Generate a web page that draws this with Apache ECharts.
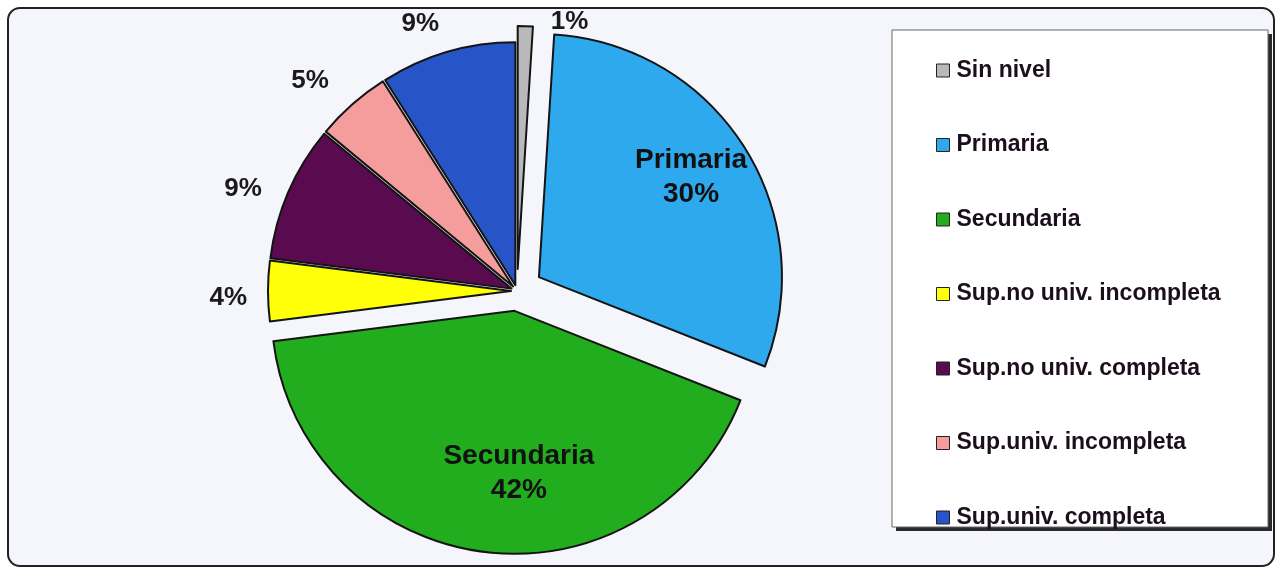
<!DOCTYPE html>
<html><head><meta charset="utf-8">
<script src="https://cdn.jsdelivr.net/npm/echarts@6/dist/echarts.min.js"></script>
<style>html,body{margin:0;padding:0;background:#fff}#c{width:1279px;height:572px}</style>
</head><body><div id="c"></div>
<script>
// ---- data ----
const categories = ['Sin nivel', 'Primaria', 'Secundaria', 'Sup.no univ. incompleta', 'Sup.no univ. completa', 'Sup.univ. incompleta', 'Sup.univ. completa'];
const percentages = [1, 30, 42, 4, 9, 5, 9];
const insideLabelCategories = ['Primaria', 'Secundaria'];

// ---- style ----
const colors = ['#b9b9b9', '#2fa9ee', '#22ad1f', '#ffff08', '#5a0a4f', '#f59c9c', '#2754c6'];
const explode = { 'Sin nivel': 22, 'Primaria': 26, 'Secundaria': 20 };
const defaultExplode = 6;
// label nudges [dx, dy] in px
const labelNudge = {
  'Sin nivel': [20, 12],
  'Primaria': [47, -33],
  'Secundaria': [20, 39],
  'Sup.no univ. incompleta': [0, 7],
  'Sup.no univ. completa': [-7, 3],
  'Sup.univ. incompleta': [-8, -11],
  'Sup.univ. completa': [1, -13]
};
const FONT = 'Liberation Sans, Arial, sans-serif';
const CENTER = [517, 291], R = 243;

const offsets = [...new Set(categories.map(c => explode[c] ?? defaultExplode))];
const series = offsets.map(off => ({
  type: 'pie', center: CENTER, radius: R, startAngle: 90, clockwise: true,
  selectedMode: 'multiple', selectedOffset: off, silent: true, animation: false,
  avoidLabelOverlap: false,
  labelLine: { show: false, length: 16, length2: 0 },
  labelLayout: (p) => {
    const n = labelNudge[categories[p.dataIndex]] || [0, 0];
    return { dx: n[0], dy: n[1] };
  },
  data: categories.map((c, i) => {
    const mine = (explode[c] ?? defaultExplode) === off;
    const inside = insideLabelCategories.includes(c);
    let label;
    if (!mine) label = { show: false };
    else if (inside) label = { show: true, position: 'inside', formatter: '{b}\n{c}%', fontFamily: FONT, fontWeight: 'bold', fontSize: 28, lineHeight: 34, color: '#111' };
    else label = { show: true, position: 'outside', formatter: '{c}%', fontFamily: FONT, fontWeight: 'bold', fontSize: 26, color: '#1a1a1a' };
    return {
      name: c, value: percentages[i], selected: mine,
      itemStyle: mine ? { color: colors[i], borderColor: '#141414', borderWidth: 2 } : { color: 'rgba(0,0,0,0)', borderWidth: 0 },
      label, labelLine: { show: false }
    };
  })
}));

const chart = echarts.init(document.getElementById('c'), null, { renderer: 'canvas' });
chart.setOption({
  backgroundColor: '#ffffff',
  animation: false,
  graphic: [
    { type: 'rect', z: -10, shape: { x: 8, y: 8, width: 1266, height: 558, r: 12 }, style: { fill: '#f4f6fb', stroke: '#222', lineWidth: 2 } },
    { type: 'rect', z: -9, shape: { x: 896, y: 34, width: 376, height: 497 }, style: { fill: '#2a2a2a' } },
    { type: 'rect', z: -8, shape: { x: 892, y: 30, width: 376, height: 497 }, style: { fill: '#ffffff', stroke: '#666', lineWidth: 1 } }
  ],
  legend: {
    orient: 'vertical', left: 936, top: 59, padding: 0, itemWidth: 13, itemHeight: 13, itemGap: 51.5,
    icon: 'rect', selectedMode: false,
    textStyle: { fontFamily: FONT, fontWeight: 'bold', fontSize: 23, lineHeight: 22, color: '#1c0f1c', padding: [0, 0, 0, 2] },
    data: categories.map((c, i) => ({ name: c, itemStyle: { color: colors[i], borderColor: '#222', borderWidth: 1 } }))
  },
  series
});
</script></body></html>
